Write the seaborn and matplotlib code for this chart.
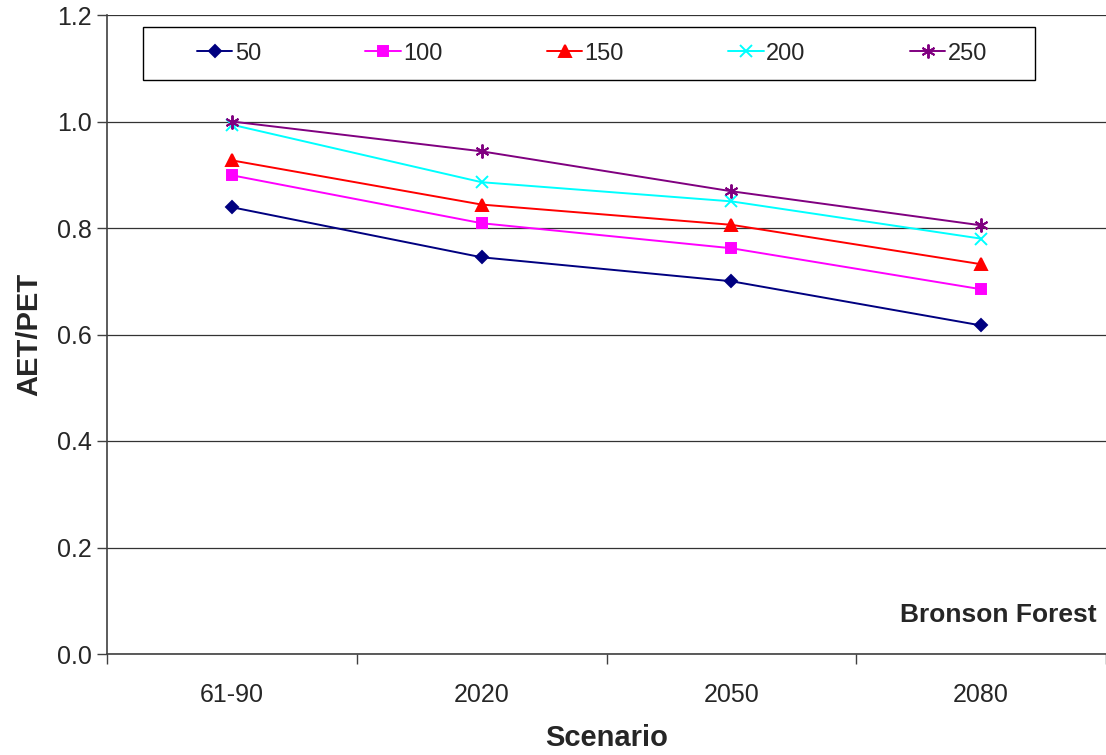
import numpy as np
import pandas as pd
import matplotlib.pyplot as plt
import seaborn as sns
from matplotlib.patches import Rectangle

# values
scenarios = ["61-90", "2020", "2050", "2080"]
series_names = ["50", "100", "150", "200", "250"]
v50 = [0.839, 0.745, 0.700, 0.617]
v100 = [0.899, 0.809, 0.762, 0.685]
v150 = [0.927, 0.844, 0.806, 0.732]
v200 = [0.994, 0.886, 0.850, 0.780]
v250 = [1.000, 0.944, 0.869, 0.805]
y_ticks = [0.0, 0.2, 0.4, 0.6, 0.8, 1.0, 1.2]

colors = {"50": "#000080", "100": "#FF00FF", "150": "#FF0000",
          "200": "#00FFFF", "250": "#800080"}
markers = {"50": "D", "100": "s", "150": "^", "200": "x", "250": (6, 2, 0)}
msizes = {"50": 6.5, "100": 7.5, "150": 8, "200": 9, "250": 10}

rows = []
for name, vals in zip(series_names, [v50, v100, v150, v200, v250]):
    for sc, v in zip(scenarios, vals):
        rows.append({"Scenario": sc, "AET/PET": v, "series": name})
df = pd.DataFrame(rows)

sns.set_style("white")
plt.rcParams["font.family"] = ["Liberation Sans", "DejaVu Sans"]

fig = plt.figure(figsize=(11.06, 7.55), dpi=100)
ax = fig.add_axes([107 / 1106, 101 / 755, 999 / 1106, 639 / 755])

# one call per series: filled and line-art markers can't share a style map
handles = []
for name in series_names:
    sub = df[df["series"] == name]
    sns.lineplot(data=sub, x="Scenario", y="AET/PET", sort=False,
                 color=colors[name], marker=markers[name],
                 markersize=msizes[name], markeredgecolor=colors[name],
                 markerfacecolor=colors[name], markeredgewidth=1.4,
                 linewidth=1.4, ax=ax, label=name, legend=False)
    handles.append(ax.get_lines()[-1])

ax.set_xlim(-0.5, 3.5)
ax.set_ylim(0, 1.2)
ax.set_yticks(y_ticks)
ax.set_yticklabels([f"{t:.1f}" for t in y_ticks])
ax.yaxis.grid(True, color="#333333", linewidth=0.9)
ax.set_axisbelow(True)

# category ticks without marks, boundary marks as minor ticks
ax.set_xticks(range(len(scenarios)))
ax.set_xticklabels(scenarios)
ax.set_xticks(np.arange(-0.5, 3.6, 1.0), minor=True)
ax.tick_params(axis="x", which="major", length=0, pad=21, labelsize=18)
ax.tick_params(axis="x", which="minor", length=7, width=1, color="#404040",
               direction="out", bottom=True)
ax.tick_params(axis="y", length=7, width=1, color="#404040", direction="out",
               labelsize=18, pad=4, left=True)

for side in ["top", "right"]:
    ax.spines[side].set_visible(False)
for side in ["left", "bottom"]:
    ax.spines[side].set_color("#404040")
    ax.spines[side].set_linewidth(1.2)

ax.set_xlabel("Scenario", fontsize=21, fontweight="bold", labelpad=12)
ax.set_ylabel("AET/PET", fontsize=21, fontweight="bold", labelpad=10)

ax.text(0.991, 0.061, "Bronson Forest", transform=ax.transAxes,
        ha="right", va="center", fontsize=19, fontweight="bold")

# legend box drawn separately, entries spread over the inner span
ax.add_patch(Rectangle((36 / 999, 574 / 639), 892 / 999, 53 / 639,
                       transform=ax.transAxes, facecolor="white",
                       edgecolor="black", linewidth=1.0, zorder=4))
leg = ax.legend(handles, series_names, ncol=5, mode="expand",
                bbox_to_anchor=(90 / 999, 574 / 639, 790 / 999, 53 / 639),
                loc="center", fontsize=17, frameon=False,
                handlelength=1.5, handletextpad=0.1, borderaxespad=0,
                borderpad=0)
leg.set_zorder(5)

fig.savefig("out.png", dpi=100)
